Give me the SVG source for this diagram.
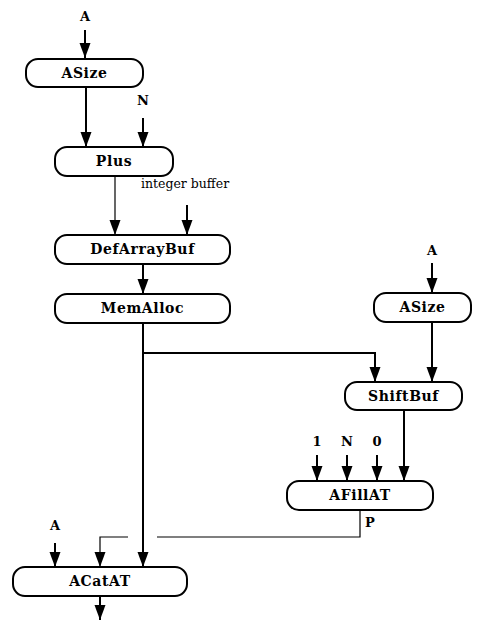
<svg xmlns="http://www.w3.org/2000/svg" width="484" height="620" viewBox="0 0 484 620">
  <defs>
    <!-- filled arrowhead; tip sits at the end of the path -->
    <marker id="arrow" markerUnits="userSpaceOnUse" markerWidth="16" markerHeight="12" refX="15" refY="5.5" orient="auto" viewBox="0 0 16 11">
      <path d="M0,0 L15,5.5 L0,11 Z" fill="#000"/>
    </marker>
  </defs>
  <style>
    .node rect { fill: #fff; stroke: #000; stroke-width: 2; }
    .node text { font-family: "DejaVu Serif", "Liberation Serif", serif; font-weight: bold; font-size: 14px; text-anchor: middle; letter-spacing: 0.6px; }
    .lbl { font-family: "DejaVu Serif", "Liberation Serif", serif; font-weight: bold; font-size: 13px; text-anchor: middle; }
    .note { font-family: "DejaVu Serif", "Liberation Serif", serif; font-size: 12.5px; }
    .edge { fill: none; stroke: #000; stroke-width: 2; }
    .thin { fill: none; stroke: #000; stroke-width: 1.2; }
    .arr { marker-end: url(#arrow); }
  </style>
  <rect width="484" height="620" fill="#fff"/>

  <!-- connectors -->
  <g id="connectors">
    <path class="edge arr" d="M85,30 V58"/>
    <path class="edge arr" d="M86,87 V147"/>
    <path class="edge arr" d="M143,118 V147"/>
    <path class="thin arr" d="M115,176 V235"/>
    <path class="edge arr" d="M187,205 V235"/>
    <path class="edge arr" d="M143,264 V294"/>
    <path class="edge arr" d="M143,323 V567"/>
    <path class="edge arr" d="M143,353 H375 V382"/>
    <path class="edge arr" d="M432,263 V293"/>
    <path class="edge arr" d="M432,322 V382"/>
    <path class="edge arr" d="M404,410 V481"/>
    <path class="edge arr" d="M317,455 V481"/>
    <path class="edge arr" d="M347,455 V481"/>
    <path class="edge arr" d="M377,455 V481"/>
    <path class="thin" d="M360,510 V537 H157"/>
    <path class="thin arr" d="M128,537 H100 V567"/>
    <path class="edge arr" d="M55,543 V567"/>
    <path class="edge arr" d="M100,596 V620"/>
  </g>

  <!-- labels -->
  <g id="labels">
    <text class="lbl" x="85" y="21">A</text>
    <text class="lbl" x="143" y="105">N</text>
    <text class="note" x="141" y="188">integer buffer</text>
    <text class="lbl" x="432" y="255">A</text>
    <text class="lbl" x="317" y="446">1</text>
    <text class="lbl" x="347" y="446">N</text>
    <text class="lbl" x="377" y="446">0</text>
    <text class="lbl" x="370" y="527">P</text>
    <text class="lbl" x="55" y="530">A</text>
  </g>

  <!-- nodes -->
  <g id="asize1" class="node">
    <rect x="26" y="59" width="117" height="28" rx="12"/>
    <text x="84.5" y="78">ASize</text>
  </g>
  <g id="plus" class="node">
    <rect x="55" y="147" width="118" height="29" rx="12"/>
    <text x="114" y="166">Plus</text>
  </g>
  <g id="defarraybuf" class="node">
    <rect x="55" y="235" width="175" height="29" rx="12"/>
    <text x="142.5" y="254">DefArrayBuf</text>
  </g>
  <g id="memalloc" class="node">
    <rect x="55" y="294" width="175" height="29" rx="12"/>
    <text x="142.5" y="313">MemAlloc</text>
  </g>
  <g id="asize2" class="node">
    <rect x="374" y="293" width="97" height="29" rx="12"/>
    <text x="422.5" y="312">ASize</text>
  </g>
  <g id="shiftbuf" class="node">
    <rect x="345" y="382" width="117" height="28" rx="12"/>
    <text x="403.5" y="401">ShiftBuf</text>
  </g>
  <g id="afillat" class="node">
    <rect x="287" y="481" width="146" height="29" rx="12"/>
    <text x="360" y="500">AFillAT</text>
  </g>
  <g id="acatat" class="node">
    <rect x="13" y="567" width="174" height="29" rx="12"/>
    <text x="100" y="586">ACatAT</text>
  </g>
</svg>
